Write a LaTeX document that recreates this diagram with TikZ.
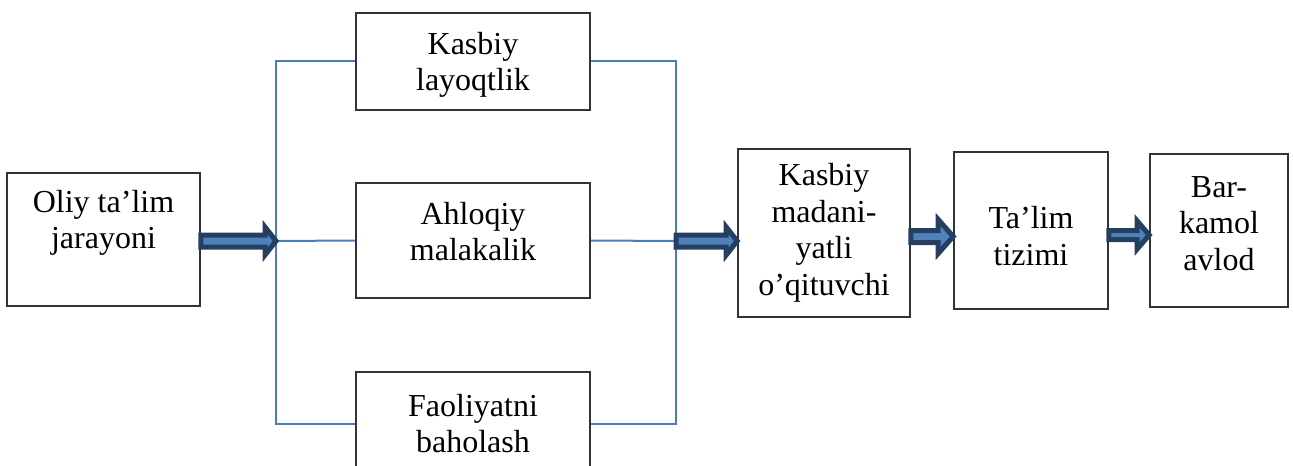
\documentclass[tikz,border=0pt]{standalone}
\usepackage{fontspec}
\setmainfont{Liberation Serif}
\usepackage{xcolor}
\definecolor{linkblue}{RGB}{74,126,187}
\definecolor{arrowfill}{RGB}{79,129,189}
\definecolor{arrowdark}{RGB}{36,63,96}
\usepackage{tikz}
\usetikzlibrary{calc}

% block arrow: from, to, shaft half, head half, head length
\newcommand{\fatarrow}[5]{%
  \path[fat] let \p1=(#1), \p2=(#2) in
    (\x1,\y1+#3) -- (\x2-#5,\y1+#3) -- (\x2-#5,\y1+#4)
    -- (\x2,\y1) -- (\x2-#5,\y1-#4) -- (\x2-#5,\y1-#3)
    -- (\x1,\y1-#3) -- cycle;}

\begin{document}
\begin{tikzpicture}[
    x=0.5pt,y=-0.5pt,
    box/.style={draw=black!80,line width=0.8pt,align=center,inner sep=0pt,
      font=\fontsize{16}{18.3}\selectfont},
    link/.style={draw=linkblue,line width=1pt},
    fat/.style={draw=arrowdark,fill=arrowfill,line width=2.5pt,line join=miter}
  ]
  \useasboundingbox (0,0) rectangle (1293,465);

  \node[box,minimum width=96.5pt,minimum height=66.5pt,text depth=20pt]
    (oliy) at (103.5,239.5) {Oliy ta’lim\\jarayoni};
  \node[box,minimum width=117pt,minimum height=48.5pt,text depth=0pt]
    (kasbiy) at (473,61.5) {Kasbiy\\layoqtlik};
  \node[box,minimum width=117pt,minimum height=57.5pt,text depth=9pt]
    (ahloq) at (473,240.5) {Ahloqiy\\malakalik};
  \node[box,minimum width=117pt,minimum height=51.5pt]
    (faol) at (473,423.5) {Faoliyatni\\baholash};
  \node[box,minimum width=86pt,minimum height=84pt]
    (madani) at (824,233) {Kasbiy\\madani-\\yatli\\o’qituvchi};
  \node[box,minimum width=77pt,minimum height=78.5pt,text height=35pt]
    (talim) at (1031,230.5) {Ta’lim\\tizimi};
  \node[box,minimum width=69pt,minimum height=76.5pt,text depth=7pt]
    (barkamol) at (1219,230.5) {Bar-\\kamol\\avlod};

  \coordinate (lsplit) at (276,241);
  \coordinate (rsplit) at (676,241);

  \draw[link] (kasbiy.west) -| (lsplit) |- (faol.west);
  \draw[link] (lsplit) -- (ahloq.west);
  \draw[link] (kasbiy.east) -| (rsplit) |- (faol.east);
  \draw[link] (ahloq.east) -- (rsplit);

  \fatarrow{oliy.east |- lsplit}{lsplit}{3pt}{7pt}{5.5pt}
  \fatarrow{rsplit}{madani.west |- rsplit}{3pt}{7pt}{5.5pt}
  \fatarrow{$(madani.east)+(0,3.5)$}{talim.west}{3pt}{8.5pt}{7.5pt}
  \fatarrow{$(talim.east)+(0,4.5)$}{barkamol.west}{2.25pt}{7pt}{6pt}
\end{tikzpicture}
\end{document}
